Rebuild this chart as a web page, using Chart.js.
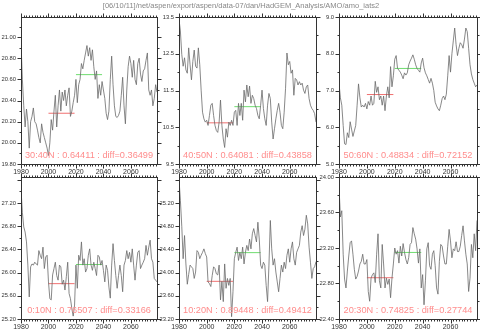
<!DOCTYPE html>
<html>
<head>
<meta charset="utf-8">
<script src="https://cdn.jsdelivr.net/npm/chart.js@4.4.1/dist/chart.umd.min.js"></script>
<style>
  html, body { margin: 0; padding: 0; background: #fff; }
  #wrap { position: relative; width: 480px; height: 333px; overflow: hidden; }
  #wrap canvas { position: absolute; left: 0; top: 0; }
</style>
</head>
<body>
<div id="wrap">
  <canvas id="p1" width="480" height="333"></canvas>
  <canvas id="p2" width="480" height="333"></canvas>
  <canvas id="p3" width="480" height="333"></canvas>
  <canvas id="p4" width="480" height="333"></canvas>
  <canvas id="p5" width="480" height="333"></canvas>
  <canvas id="p6" width="480" height="333"></canvas>
</div>
<script>
//DATA
const title = '[06/10/11]/net/aspen/export/aspen/data-07/dan/HadGEM_Analysis/AMO/amo_iats2';

const years = [];
for (let yr = 1980; yr <= 2079; yr++) years.push(yr);
const xTicks = [1980, 2000, 2020, 2040, 2060];

// the two 20 year windows (red, green)
const periodA = [2000, 2019];
const periodB = [2020, 2039];

// 30:40N
const amo3040 = [20.95, 20.6, 20.35, 20.15, 20.32, 20.2, 19.95, 20.2, 20.25, 20.33,
    20.2, 20.18, 20.12, 20.05, 20.0, 20.18, 20.1, 20.05, 20.0, 19.95,
    19.88, 20.0, 20.22, 20.12, 20.3, 20.45, 20.15, 20.35, 20.5, 20.3,
    20.48, 20.4, 20.5, 20.35, 20.45, 20.52, 20.25, 20.3, 20.38, 20.45,
    20.6, 20.38, 20.55, 20.6, 20.75, 20.7, 20.78, 20.85, 20.92, 20.82,
    20.9, 20.78, 20.88, 20.72, 20.6, 20.68, 20.42, 20.55, 20.45, 20.58,
    20.5, 20.42, 20.28, 20.22, 20.3, 20.6, 20.82, 20.55, 20.35, 20.25,
    20.24, 20.26, 20.3, 20.45, 20.62, 20.35, 20.18, 20.5, 20.72, 20.82,
    20.75, 20.62, 20.78, 20.6, 20.55, 20.75, 20.8, 20.65, 20.58, 20.68,
    20.7, 20.78, 20.85, 20.5, 20.45, 20.5, 20.35, 20.42, 20.55, 20.48];
const ticks3040 = [19.8, 20.0, 20.2, 20.4, 20.6, 20.8, 21.0];
const means3040 = [20.28, 20.645];

// 40:50N
const amo4050 = [13.44, 13.12, 12.48, 12.16, 12.39, 12.06, 11.97, 12.66, 12.2, 11.79,
    12.29, 12.6, 12.16, 12.11, 12.66, 12.2, 11.51, 10.91, 10.73, 10.64,
    10.69, 10.55, 10.82, 11.1, 11.15, 10.82, 10.55, 10.41, 10.36, 10.64,
    11.24, 10.55, 10.18, 9.95, 10.46, 10.23, 10.64, 10.55, 10.69, 10.55,
    10.91, 10.96, 10.55, 11.15, 10.82, 11.15, 10.69, 11.51, 11.19, 11.65,
    11.33, 11.62, 11.15, 11.37, 11.28, 11.1, 11.01, 10.82, 10.73, 11.1,
    11.51, 11.01, 10.73, 10.55, 11.1, 11.42, 11.28, 10.64, 10.18, 10.46,
    10.73, 10.96, 11.15, 10.91, 10.55, 10.46, 10.91, 11.56, 12.52, 12.2,
    12.29, 11.97, 12.06, 11.37, 11.83, 11.79, 11.65, 11.74, 11.65, 11.7,
    11.51, 11.42, 11.6, 11.65, 11.28, 11.1, 11.01, 10.96, 10.87, 10.64];
const ticks4050 = [9.5, 10.5, 11.5, 12.5, 13.5];
const means4050 = [10.62, 11.06];

// 50:60N
const amo5060 = [7.2, 6.8, 6.6, 6.05, 5.55, 5.53, 5.85, 5.72, 6.15, 5.95,
    5.75, 5.9, 6.05, 6.6, 7.18, 6.8, 6.55, 6.6, 6.55, 6.65,
    6.5, 6.7, 6.6, 6.85, 6.6, 6.65, 7.25, 6.95, 7.1, 6.75,
    6.85, 6.6, 6.85, 6.45, 6.85, 7.1, 6.8, 7.65, 7.1, 7.4,
    7.85, 7.95, 7.6, 7.55, 7.5, 7.42, 7.32, 7.48, 7.42, 7.48,
    7.7, 7.8, 7.88, 7.97, 7.85, 7.7, 7.6, 7.55, 7.5, 7.75,
    7.88, 7.62, 7.48, 7.4, 7.3, 7.2, 7.33, 7.2, 7.0, 6.68,
    6.58, 6.5, 6.45, 6.6, 6.78, 6.85, 6.75, 6.9, 7.4, 7.95,
    7.5, 8.0, 8.35, 8.7, 8.25, 7.95, 8.15, 8.3, 8.25, 8.15,
    8.4, 8.7, 8.6, 8.15, 7.7, 7.45, 7.3, 7.2, 7.1, 7.15];
const ticks5060 = [5.0, 6.0, 7.0, 8.0, 9.0];
const means5060 = [6.89, 7.6];

// 0:10N
const amo0010 = [27.44, 27.04, 26.79, 26.7, 26.53, 26.13, 25.58, 26.1, 26.15, 26.13,
    26.18, 26.15, 26.13, 26.38, 26.3, 26.24, 26.44, 26.07, 26.27, 26.3,
    25.84, 25.55, 25.53, 25.96, 26.07, 26.18, 25.95, 25.87, 26.13, 26.1,
    25.8, 25.87, 25.7, 25.93, 26.18, 25.64, 25.55, 25.38, 25.25, 25.44,
    26.13, 25.73, 26.3, 26.21, 26.53, 26.13, 26.24, 26.01, 26.07, 26.3,
    26.41, 26.13, 26.04, 26.18, 26.07, 25.95, 26.3, 26.27, 26.13, 26.21,
    26.04, 25.84, 26.13, 26.04, 25.75, 25.56, 26.13, 26.5, 26.21, 25.95,
    25.73, 25.95, 26.13, 25.95, 25.67, 26.13, 26.21, 26.38, 26.24, 26.35,
    26.18, 26.41, 26.13, 25.87, 26.13, 26.35, 26.38, 26.07, 26.13, 26.18,
    26.24, 26.47, 26.3, 26.44, 26.56, 26.24, 26.18, 25.9, 25.87, 25.84];
const ticks0010 = [25.2, 25.6, 26.0, 26.4, 26.8, 27.2];
const means0010 = [25.81, 26.14];

// 10:20N
const amo1020 = [25.61, 25.25, 24.8, 24.24, 24.64, 24.15, 23.8, 23.97, 24.13, 24.1,
    24.07, 23.9, 24.01, 24.38, 24.35, 24.24, 24.3, 24.35, 24.41, 24.33,
    24.27, 23.84, 23.81, 23.76, 23.95, 24.1, 24.07, 23.98, 23.96, 24.13,
    23.53, 23.85, 23.5, 24.15, 23.73, 23.9, 23.78, 23.9, 23.24, 23.67,
    24.24, 24.35, 24.44, 24.21, 24.35, 24.24, 24.44, 24.15, 24.35, 24.47,
    24.38, 24.58, 24.41, 24.67, 24.76, 24.64, 24.53, 24.87, 24.58, 24.13,
    24.07, 24.18, 24.13, 23.78, 23.5, 24.13, 24.9, 24.41, 24.13, 24.24,
    24.01, 23.84, 23.67, 23.9, 24.13, 24.01, 24.18, 24.07, 24.3, 24.41,
    24.18, 24.41, 24.53, 24.24, 24.13, 24.35, 24.41, 24.47, 24.7, 24.81,
    24.64, 24.75, 24.99, 24.84, 24.44, 24.18, 23.9, 24.07, 24.1, 24.19];
const ticks1020 = [23.2, 23.6, 24.0, 24.4, 24.8, 25.2];
const means1020 = [23.85, 24.345];

// 20:30N
const amo2030 = [23.89, 23.55, 23.62, 23.13, 22.85, 22.75, 22.94, 23.11, 23.26, 23.28,
    23.13, 22.96, 22.85, 22.88, 22.94, 23.02, 23.05, 23.13, 23.02, 23.02,
    23.07, 22.71, 22.6, 22.86, 22.9, 22.92, 22.81, 23.13, 23.36, 22.83,
    22.75, 23.24, 23.02, 22.75, 22.86, 22.79, 22.85, 22.64, 22.86, 23.02,
    23.2, 23.13, 23.17, 23.03, 23.22, 23.11, 23.25, 23.15, 23.07, 23.02,
    23.09, 23.24, 23.26, 23.43, 23.36, 23.3, 23.19, 23.03, 23.19, 22.75,
    22.9, 22.56, 22.83, 23.19, 23.26, 23.0, 22.96, 23.13, 23.17, 23.0,
    22.75, 22.68, 23.05, 23.24, 23.22, 23.11, 23.02, 23.02, 23.22, 23.41,
    23.28, 23.09, 23.19, 23.17, 23.27, 23.16, 23.16, 23.22, 23.34, 23.45,
    23.28, 23.13, 23.02, 22.71, 22.86, 23.24, 23.09, 23.36, 23.17, 23.51];
const ticks2030 = [22.4, 22.8, 23.2, 23.6, 24.0];
const means2030 = [22.865, 23.15];


//DRAWING
const labelFont = 'Liberation Sans';
const yAxisW = 21;
const xAxisH = 12;

// box, outward ticks on all four sides, and the text line in the panel
const panelDecor = {
    id: 'panelDecor',
    afterDraw(chart, args, opts) {
        const ctx = chart.ctx;
        const a = chart.chartArea;
        const x = chart.scales.x;
        const y = chart.scales.y;
        const L = Math.round(a.left) + 0.5, R = Math.round(a.right) + 0.5;
        const T = Math.round(a.top) + 0.5, B = Math.round(a.bottom) + 0.5;

        ctx.save();
        ctx.strokeStyle = '#333';
        ctx.lineWidth = 1;
        ctx.strokeRect(L, T, R - L, B - T);

        ctx.beginPath();
        for (let v = x.min; v <= x.max; v += 2) {
            const px = Math.round(x.getPixelForValue(v)) + 0.5;
            const len = (v % 20 === 0) ? 4 : 2;
            ctx.moveTo(px, T); ctx.lineTo(px, T - len);
            ctx.moveTo(px, B); ctx.lineTo(px, B + len);
        }
        const major = opts.yTicks[1] - opts.yTicks[0];
        const minor = major / 2;
        let v = opts.yTicks[0];
        while (v - minor >= y.min - 1e-9) v -= minor;
        for (; v <= y.max + 1e-9; v += minor) {
            const py = Math.round(y.getPixelForValue(v)) + 0.5;
            const k = (v - opts.yTicks[0]) / major;
            const len = Math.abs(k - Math.round(k)) < 1e-6 ? 4 : 2;
            ctx.moveTo(L, py); ctx.lineTo(L - len, py);
            ctx.moveTo(R, py); ctx.lineTo(R + len, py);
        }
        ctx.stroke();

        ctx.fillStyle = '#ff8c8c';
        ctx.font = '9.2px "' + labelFont + '"';
        ctx.textAlign = 'center';
        ctx.textBaseline = 'middle';
        ctx.fillText(opts.text, (a.left + a.right) / 2, a.bottom - 9);

        if (opts.title) {
            ctx.fillStyle = '#888';
            ctx.font = '7.5px "' + labelFont + '"';
            ctx.fillText(opts.title, 241, 5.5);
        }
        ctx.restore();
    }
};

function meanLine(period, value, color) {
    return {
        data: [{ x: period[0], y: value }, { x: period[1], y: value }],
        borderColor: color,
        borderWidth: 1,
        pointRadius: 0
    };
}

function makePanel(id, box, series, yMin, yMax, yTicks, decimals, means, text, withTitle) {
    return new Chart(document.getElementById(id), {
        type: 'line',
        data: {
            datasets: [{
                data: years.map((yr, i) => ({ x: yr, y: series[i] })),
                borderColor: '#6a6a6a',
                borderWidth: 0.8,
                pointRadius: 0,
                tension: 0
            },
            meanLine(periodA, means[0], '#f07070'),
            meanLine(periodB, means[1], '#6fdc6f')]
        },
        options: {
            responsive: false,
            animation: false,
            devicePixelRatio: 1,
            layout: {
                padding: { left: box[0] - yAxisW, right: 480 - box[1], top: box[2], bottom: 333 - box[3] - xAxisH }
            },
            plugins: {
                legend: { display: false },
                tooltip: { enabled: false },
                panelDecor: { yTicks: yTicks, text: text, title: withTitle ? title : null }
            },
            scales: {
                x: {
                    type: 'linear', min: 1980, max: 2079,
                    grid: { display: false, drawTicks: false },
                    border: { display: false },
                    afterFit: s => { s.height = xAxisH; },
                    afterBuildTicks: s => { s.ticks = xTicks.map(v => ({ value: v })); },
                    ticks: {
                        padding: 4, color: '#333', maxRotation: 0, autoSkip: false,
                        font: { family: labelFont, size: 7 },
                        callback: v => String(v)
                    }
                },
                y: {
                    type: 'linear', min: yMin, max: yMax,
                    grid: { display: false, drawTicks: false },
                    border: { display: false },
                    afterFit: s => { s.width = yAxisW; },
                    afterBuildTicks: s => { s.ticks = yTicks.map(v => ({ value: v })); },
                    ticks: {
                        padding: 5, color: '#333', autoSkip: false,
                        font: { family: labelFont, size: 5.8 },
                        callback: v => v.toFixed(decimals)
                    }
                }
            }
        },
        plugins: [panelDecor]
    });
}

//PANELS  box = [left, right, top, bottom]
makePanel('p1', [21, 157, 17, 164], amo3040, 19.8, 21.19, ticks3040, 2, means3040,
    '30:40N : 0.64411 : diff=0.36499', true);
makePanel('p2', [179, 316, 17, 164], amo4050, 9.5, 13.5, ticks4050, 1, means4050,
    '40:50N : 0.64081 : diff=0.43858', false);
makePanel('p3', [339, 477, 17, 164], amo5060, 5.0, 9.0, ticks5060, 1, means5060,
    '50:60N : 0.48834 : diff=0.72152', false);
makePanel('p4', [21, 157, 177, 319], amo0010, 25.2, 27.65, ticks0010, 2, means0010,
    '0:10N : 0.76507 : diff=0.33166', false);
makePanel('p5', [179, 316, 177, 319], amo1020, 23.2, 25.65, ticks1020, 2, means1020,
    '10:20N : 0.89448 : diff=0.49412', false);
makePanel('p6', [339, 477, 177, 319], amo2030, 22.4, 24.0, ticks2030, 2, means2030,
    '20:30N : 0.74825 : diff=0.27744', false);
</script>
</body>
</html>
